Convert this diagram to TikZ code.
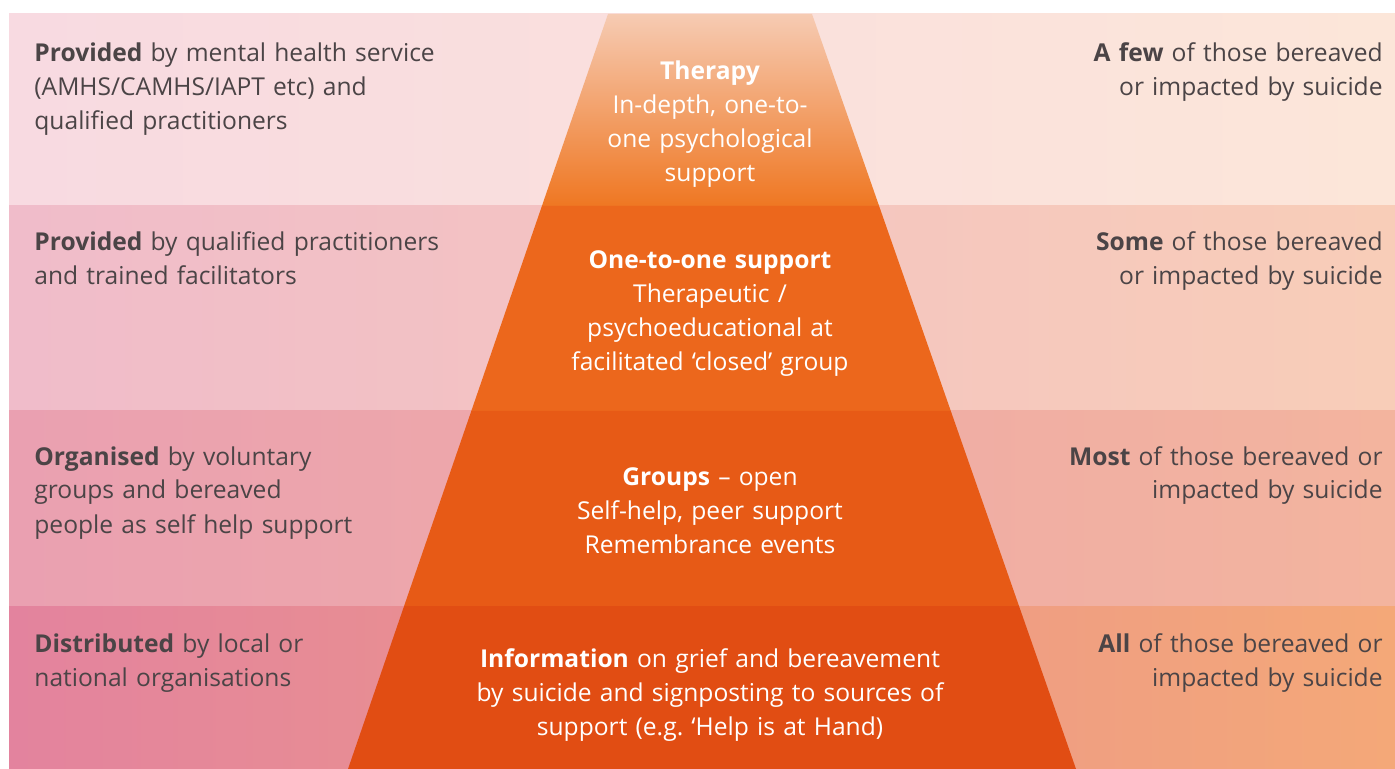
\documentclass[tikz,border=0pt]{standalone}
\usepackage{fontspec}
\setmainfont{Open Sans}
\definecolor{txt}{HTML}{4B4446}
\definecolor{bAl}{HTML}{F8DAE1}\definecolor{bAr}{HTML}{FCE6D9}
\definecolor{bBl}{HTML}{F0BCCA}\definecolor{bBr}{HTML}{F8CDB8}
\definecolor{bCl}{HTML}{EAA0B1}\definecolor{bCr}{HTML}{F3B49E}
\definecolor{bDl}{HTML}{E3839E}\definecolor{bDr}{HTML}{F4A878}
\definecolor{pAt}{HTML}{F6CBB3}\definecolor{pAm}{HTML}{F18F50}\definecolor{pAb}{HTML}{EF7722}
\definecolor{pB}{HTML}{EC671C}
\definecolor{pC}{HTML}{E75A16}
\definecolor{pD}{HTML}{E14D13}
\tikzset{
  lefttext/.style={anchor=base west,text width=260pt,align=left,text=txt,inner sep=0pt},
  righttext/.style={anchor=base east,text width=200pt,align=right,text=txt,inner sep=0pt},
  midtext/.style={anchor=base,text width=270pt,align=center,text=white,inner sep=0pt},
}
\begin{document}
\begin{tikzpicture}[x=0.5pt,y=-0.5pt,font=\fontsize{12.3}{17}\selectfont]
\useasboundingbox (0,0) rectangle (1395,769);
\fill[white] (0,0) rectangle (1395,769);
% background bands
\shade[left color=bAl,right color=bAr] (9,14) rectangle (1395,206);
\shade[left color=bBl,right color=bBr] (9,206) rectangle (1395,411);
\shade[left color=bCl,right color=bCr] (9,411) rectangle (1395,606);
\shade[left color=bDl,right color=bDr] (9,606) rectangle (1395,769);
% pyramid corners
\coordinate (L0) at (608,14);   \coordinate (R0) at (812,14);
\coordinate (L1) at (541.9,206);\coordinate (R1) at (879.1,206);
\coordinate (L2) at (471.3,411);\coordinate (R2) at (950.8,411);
\coordinate (L3) at (404.1,606);\coordinate (R3) at (1019,606);
\coordinate (L4) at (348,769);  \coordinate (R4) at (1076,769);
\shade[top color=pAt,middle color=pAm,bottom color=pAb] (L0)--(R0)--(R1)--(L1)--cycle;
\fill[pB] (L1)--(R1)--(R2)--(L2)--cycle;
\fill[pC] (L2)--(R2)--(R3)--(L3)--cycle;
\fill[pD] (L3)--(R3)--(R4)--(L4)--cycle;
% left texts
\node[lefttext] (l1) at (34,62) {\textbf{Provided} by mental health service\\(AMHS/CAMHS/IAPT etc) and\\qualified practitioners};
\node[lefttext] (l2) at (34,251) {\textbf{Provided} by qualified practitioners\\and trained facilitators};
\node[lefttext] (l3) at (34,465) {\textbf{Organised} by voluntary\\groups and bereaved\\people as self help support};
\node[lefttext] (l4) at (34,652) {\textbf{Distributed} by local or\\national organisations};
% right texts
\node[righttext] (r1) at (1383,62) {\textbf{A few} of those bereaved\\or impacted by suicide};
\node[righttext] (r2) at (1383,251) {\textbf{Some} of those bereaved\\or impacted by suicide};
\node[righttext] (r3) at (1383,465) {\textbf{Most} of those bereaved or\\impacted by suicide};
\node[righttext] (r4) at (1383,652) {\textbf{All} of those bereaved or\\impacted by suicide};
% pyramid texts
\node[midtext] (m1) at (710,80) {\textbf{Therapy}\\In-depth, one-to-\\one psychological\\support};
\node[midtext] (m2) at (710,269) {\textbf{One-to-one support}\\Therapeutic /\\psychoeducational at\\facilitated ‘closed’ group};
\node[midtext] (m3) at (710,485) {\textbf{Groups} -- open\\Self-help, peer support\\Remembrance events};
\node[midtext] (m4) at (710,667) {\textbf{Information} on grief and bereavement\\by suicide and signposting to sources of\\support (e.g.\ ‘Help is at Hand)};
\end{tikzpicture}
\end{document}
